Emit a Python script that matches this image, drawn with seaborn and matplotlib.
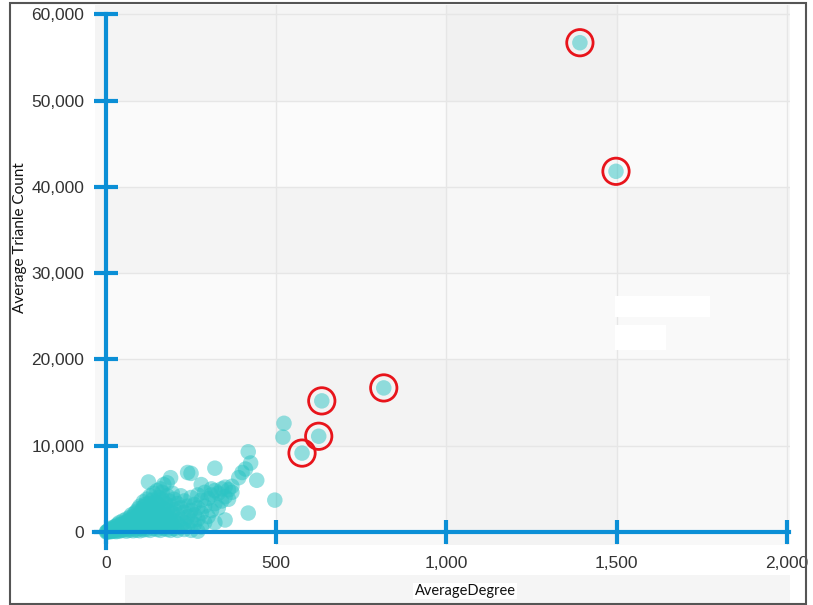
import matplotlib
matplotlib.use("Agg")
import matplotlib.pyplot as plt
import seaborn as sns
import pandas as pd
from matplotlib.patches import Rectangle

# ---- data ----
avg_degree = [
    2, 2, 5, 5, 10, 10, 10, 15, 15, 15, 20, 20, 20, 25, 25, 25, 30, 30, 30,
    35, 35, 35, 40, 40, 40, 40, 45, 45, 50, 50, 50, 50, 55, 55, 60, 60, 60, 60,
    65, 65, 65, 70, 70, 70, 70, 75, 75, 75, 75, 80, 80, 80, 80, 85, 85, 85, 85,
    90, 90, 90, 90, 95, 95, 95, 95, 100, 100, 100, 100, 100, 105, 105, 105,
    110, 110, 110, 110, 110, 115, 115, 115, 115, 120, 120, 120, 120, 120,
    125, 125, 125, 125, 130, 130, 130, 130, 135, 135, 135, 135, 140, 140, 140, 140,
    145, 145, 145, 150, 150, 150, 150, 150, 155, 155, 155, 160, 160, 160, 160, 160,
    165, 165, 165, 165, 170, 170, 170, 170, 175, 175, 175, 180, 180, 180, 180, 180,
    185, 185, 185, 190, 190, 190, 190, 195, 195, 195, 200, 200, 200, 200,
    210, 210, 210, 210, 220, 220, 220, 220, 230, 230, 230, 230, 240, 240, 240, 240,
    250, 250, 250, 250, 250, 260, 260, 260, 270, 270, 270, 270, 280, 280, 280, 280,
    290, 290, 290, 300, 300, 310, 310, 310, 320, 320, 320, 320, 330, 330, 340, 340,
    350, 350, 350, 360, 360, 370, 370, 390, 400, 410, 418, 418, 425, 443, 496,
    520, 523, 576, 625, 634, 816, 1392, 1498,
]
avg_triangles = [
    0, 50, 20, 100, 30, 150, 300, 60, 250, 450, 80, 200, 400, 100, 350, 600, 50, 300, 700,
    150, 500, 900, 100, 400, 800, 1100, 250, 650, 200, 600, 1000, 1300, 350, 900, 100, 500, 1100, 1500,
    300, 800, 1300, 200, 700, 1200, 1700, 450, 1000, 1500, 2000, 150, 600, 1300, 1800, 350, 900, 1600, 2200,
    200, 800, 1400, 2400, 500, 1100, 1900, 2700, 150, 700, 1500, 2200, 3000, 400, 1200, 2500,
    250, 900, 1800, 2900, 3500, 600, 1500, 2300, 3200, 300, 1000, 2000, 2700, 3800,
    700, 1600, 3300, 5800, 200, 1200, 2300, 4200, 800, 1800, 3000, 3700, 400, 1400, 2600, 4500,
    1000, 2000, 3500, 300, 1300, 2500, 3300, 4800, 700, 1700, 4000, 200, 1100, 2200, 3000, 5000,
    600, 1800, 3800, 4600, 400, 1500, 2700, 5500, 900, 2000, 3300, 300, 1200, 2500, 4200, 5700,
    700, 1800, 3600, 200, 1500, 3000, 6300, 900, 2200, 4500, 400, 1300, 2600, 3800,
    200, 1000, 2000, 3300, 600, 1500, 2800, 4200, 300, 1100, 2300, 3600, 700, 1800, 3000, 6900,
    200, 1300, 2500, 4000, 6800, 900, 2000, 3200, 100, 1500, 2800, 4300, 600, 2200, 3700, 5500,
    1100, 3000, 4600, 1800, 3900, 2500, 4300, 5000, 1100, 3300, 4800, 7400, 2800, 4500, 3600, 5000,
    1400, 4100, 5200, 3800, 4900, 4600, 5300, 6300, 6900, 7300, 9300, 2200, 8000, 6000, 3700,
    11000, 12600, 9150, 11100, 15200, 16700, 56700, 41800,
]
circled_degree = [576, 625, 634, 816, 1392, 1498]

x_ticks = [0, 500, 1000, 1500, 2000]
x_tick_labels = ["0", "500", "1,000", "1,500", "2,000"]
y_ticks = [0, 10000, 20000, 30000, 40000, 50000, 60000]
y_tick_labels = ["0", "10,000", "20,000", "30,000", "40,000", "50,000", "60,000"]

df = pd.DataFrame({"AverageDegree": avg_degree, "AverageTriangles": avg_triangles})
df_circ = df[df["AverageDegree"].isin(circled_degree)]

# ---- styling ----
sns.set_theme(style="white")
plt.rcParams["font.family"] = ["Liberation Sans", "DejaVu Sans"]

BLUE = "#0b8fd6"
TEAL = "#2cc4c4"

fig = plt.figure(figsize=(8.13, 6.05), dpi=100)
fig.patch.set_facecolor("white")
# light grey band under the tick labels, as in the screenshot
fig.patches.append(Rectangle((125 / 813, 1 / 605), 665 / 813, 29 / 605, transform=fig.transFigure,
                             facecolor="#f5f5f5", edgecolor="none", zorder=-1))
ax = fig.add_axes([95 / 813, 60 / 605, 695 / 813, 540 / 605])
ax.set_xlim(-32, 2009)
ax.set_ylim(-1500, 61070)

# background cells
xb = [-32, 500, 1000, 1500, 2009]
yb = [-1500, 10000, 20000, 30000, 40000, 50000, 61070]
shades = [
    ["#ffffff", "#f8f8f8", "#f3f3f3", "#f8f8f8"],
    ["#f7f7f7", "#f3f3f3", "#f2f2f2", "#f7f7f7"],
    ["#fafafa", "#f9f9f9", "#f9f9f9", "#f9f9f9"],
    ["#f4f4f4", "#f3f3f3", "#f7f7f7", "#f4f4f4"],
    ["#fafafa", "#fbfbfb", "#f7f7f7", "#fafafa"],
    ["#f4f4f4", "#f5f5f5", "#f1f1f1", "#f6f6f6"],
]
for r in range(6):
    for c in range(4):
        ax.add_patch(Rectangle((xb[c], yb[r]), xb[c + 1] - xb[c], yb[r + 1] - yb[r],
                               facecolor=shades[r][c], edgecolor="none", zorder=0))
for xv in [500, 1000, 1500, 2000]:
    ax.axvline(xv, color="#e6e6e6", lw=1, zorder=0.5)
for yv in y_ticks[1:]:
    ax.axhline(yv, color="#e6e6e6", lw=1, zorder=0.5)
# white patches present in the screenshot
ax.add_patch(Rectangle((1495, 24900), 280, 2450, facecolor="white", edgecolor="none", zorder=0.6))
ax.add_patch(Rectangle((1495, 21100), 150, 2900, facecolor="white", edgecolor="none", zorder=0.6))

sns.scatterplot(data=df, x="AverageDegree", y="AverageTriangles", ax=ax,
                color=TEAL, alpha=0.5, s=125, edgecolor="none", zorder=3, legend=False)
ax.scatter(df_circ["AverageDegree"], df_circ["AverageTriangles"], s=360,
           facecolors="none", edgecolors="#e8141b", linewidths=2, zorder=4)

# axes as blue lines through zero
for s in ["top", "right"]:
    ax.spines[s].set_visible(False)
ax.spines["left"].set_position(("data", 0))
ax.spines["bottom"].set_position(("data", 0))
ax.spines["left"].set_bounds(-1900, 60000)
ax.spines["bottom"].set_bounds(-35, 2005)
for s in ["left", "bottom"]:
    ax.spines[s].set_color(BLUE)
    ax.spines[s].set_linewidth(3)
    ax.spines[s].set_zorder(5)

ax.set_xticks(x_ticks)
ax.set_xticklabels(x_tick_labels)
ax.set_yticks(y_ticks)
ax.set_yticklabels(y_tick_labels)
ax.tick_params(axis="both", bottom=True, left=True, direction="inout", length=17, width=3,
               color=BLUE, labelsize=12.5, labelcolor="#333333")
ax.tick_params(axis="y", pad=7)
ax.tick_params(axis="x", pad=9)
ax.grid(False)
ax.set_xlabel("")
ax.set_ylabel("")

fig.text(465 / 813, 1 - 591 / 605, "AverageDegree", ha="center", va="center",
         fontsize=10.5, family=["Lato", "DejaVu Sans"], color="#111111",
         bbox=dict(facecolor="white", edgecolor="none", pad=1))
fig.text(20 / 813, 1 - 238 / 605, "Average Trianle Count", ha="center", va="center",
         rotation=90, fontsize=11, family=["Lato", "DejaVu Sans"], color="#111111")

# outer frame
fig.patches.append(Rectangle((10 / 813, 1 / 605), 796 / 813, 601 / 605, transform=fig.transFigure,
                             facecolor="none", edgecolor="#555555", lw=1.5))

fig.savefig("out.png", dpi=100)
